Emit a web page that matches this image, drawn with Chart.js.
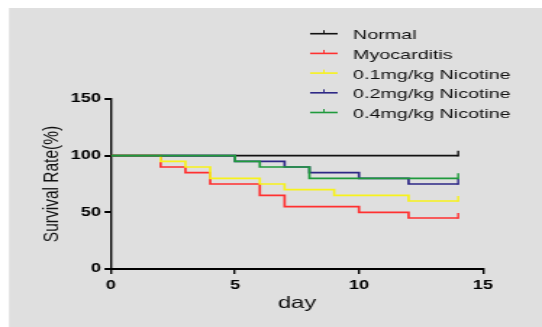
<!DOCTYPE html>
<html>
<head>
<meta charset="utf-8">
<script src="https://cdn.jsdelivr.net/npm/chart.js@4.4.1/dist/chart.umd.min.js"></script>
<style>
  html, body { margin: 0; padding: 0; background: #fff; }
  /* the source picture is stretched sideways, so draw narrow and widen with css */
  #chart { display: block; width: 542px; height: 327px; }
</style>
</head>
<body>
<canvas id="chart" width="374" height="327" style="width:542px;height:327px"></canvas>
<script>
// survival data (day, percent)
const seriesNames = ["Normal", "Myocarditis", "0.1mg/kg Nicotine", "0.2mg/kg Nicotine", "0.4mg/kg Nicotine"];
const normalDays = [0, 14];
const normalRate = [100, 100];
const myoDays = [0, 2, 3, 4, 6, 7, 10, 12, 14];
const myoRate = [100, 90, 85, 75, 65, 55, 50, 45, 45];
const nic01Days = [0, 2, 3, 4, 6, 7, 9, 12, 14];
const nic01Rate = [100, 95, 90, 80, 75, 70, 65, 60, 60];
const nic02Days = [0, 5, 7, 8, 10, 12, 14];
const nic02Rate = [100, 95, 90, 85, 80, 75, 75];
const nic04Days = [0, 5, 6, 8, 14];
const nic04Rate = [100, 95, 90, 80, 80];
const xTicks = [0, 5, 10, 15];
const yTicks = [0, 50, 100, 150];

const colors = ["#111111", "#ff3030", "#f7f21c", "#2e2886", "#1f9a3c"];
const FONT = "Arial, 'Liberation Sans', sans-serif";

function toPoints(days, rate) {
  return days.map((d, i) => ({ x: d, y: rate[i] }));
}

const allSeries = [
  [normalDays, normalRate],
  [myoDays, myoRate],
  [nic01Days, nic01Rate],
  [nic02Days, nic02Rate],
  [nic04Days, nic04Rate]
];

// lower order is drawn on top; green sits over the others in the figure
const drawOrder = [3, 4, 2, 1, 0];

const datasets = allSeries.map((s, i) => ({
  label: seriesNames[i],
  data: toPoints(s[0], s[1]),
  borderColor: colors[i],
  borderWidth: 1.7,
  stepped: "before",
  pointRadius: 0,
  fill: false,
  order: drawOrder[i]
}));

// grey panel behind everything
const panelBg = {
  id: "panelBg",
  beforeDraw(chart) {
    const ctx = chart.ctx;
    ctx.save();
    ctx.fillStyle = "#ffffff";
    ctx.fillRect(0, 0, chart.width, chart.height);
    ctx.fillStyle = "#dfdfdf";
    ctx.fillRect(6.2, 8, chart.width, chart.height);
    ctx.restore();
  }
};

// small upward censor tick on the last point of every curve
const censorTicks = {
  id: "censorTicks",
  afterDatasetsDraw(chart) {
    const ctx = chart.ctx;
    ctx.save();
    chart.data.datasets.forEach((ds, i) => {
      const meta = chart.getDatasetMeta(i);
      const last = meta.data[meta.data.length - 1];
      ctx.strokeStyle = ds.borderColor;
      ctx.lineWidth = 1.4;
      ctx.beginPath();
      ctx.moveTo(last.x, last.y + 0.8);
      ctx.lineTo(last.x, last.y - 5);
      ctx.stroke();
    });
    ctx.restore();
  }
};

// legend floats over the upper right, partly above the plot area
const floatLegend = {
  id: "floatLegend",
  afterDraw(chart) {
    const ctx = chart.ctx;
    ctx.save();
    ctx.font = "13.6px " + FONT;
    ctx.textBaseline = "alphabetic";
    chart.data.datasets.forEach((ds, i) => {
      const y = 33.7 + 19.7 * i;
      ctx.strokeStyle = ds.borderColor;
      ctx.lineWidth = 1.6;
      ctx.beginPath();
      ctx.moveTo(214, y);
      ctx.lineTo(233, y);
      ctx.stroke();
      ctx.lineWidth = 1;
      ctx.beginPath();
      ctx.moveTo(223.5, y);
      ctx.lineTo(223.5, y - 3.5);
      ctx.stroke();
      ctx.fillStyle = "#111";
      ctx.fillText(ds.label, 243.6, y + 5.6);
    });
    ctx.restore();
  }
};

new Chart(document.getElementById("chart"), {
  type: "line",
  data: { datasets: datasets },
  options: {
    responsive: false,
    animation: false,
    devicePixelRatio: 1,
    layout: { padding: { left: 6.2, top: 99, right: 40.7, bottom: 0 } },
    plugins: {
      legend: { display: false },
      tooltip: { enabled: false }
    },
    scales: {
      x: {
        type: "linear",
        min: 0,
        max: 15,
        afterBuildTicks: (scale) => { scale.ticks = xTicks.map(v => ({ value: v })); },
        afterFit: (scale) => { scale.height = 58; },
        grid: { drawOnChartArea: false, drawTicks: true, tickLength: 5, color: "#000", lineWidth: 1.4 },
        border: { display: true, color: "#000", width: 2 },
        ticks: { color: "#000", padding: 4, maxRotation: 0, font: { family: FONT, size: 12.5, weight: "bold" } },
        title: { display: true, text: "day", color: "#111", padding: { top: 0, bottom: 13.4 }, font: { family: FONT, size: 16.5 } }
      },
      y: {
        min: 0,
        max: 150,
        afterBuildTicks: (scale) => { scale.ticks = yTicks.map(v => ({ value: v })); },
        afterFit: (scale) => { scale.width = 70.4; },
        grid: { drawOnChartArea: false, drawTicks: true, tickLength: 4.5, color: "#000", lineWidth: 2 },
        border: { display: true, color: "#000", width: 1.4 },
        ticks: { color: "#000", padding: 2.5, font: { family: FONT, size: 12.5, weight: "bold" } },
        title: { display: true, text: "Survival Rate(%)", color: "#111", padding: { top: 20, bottom: 0 }, font: { family: FONT, size: 15.5 } }
      }
    }
  },
  plugins: [panelBg, censorTicks, floatLegend]
});
</script>
</body>
</html>
